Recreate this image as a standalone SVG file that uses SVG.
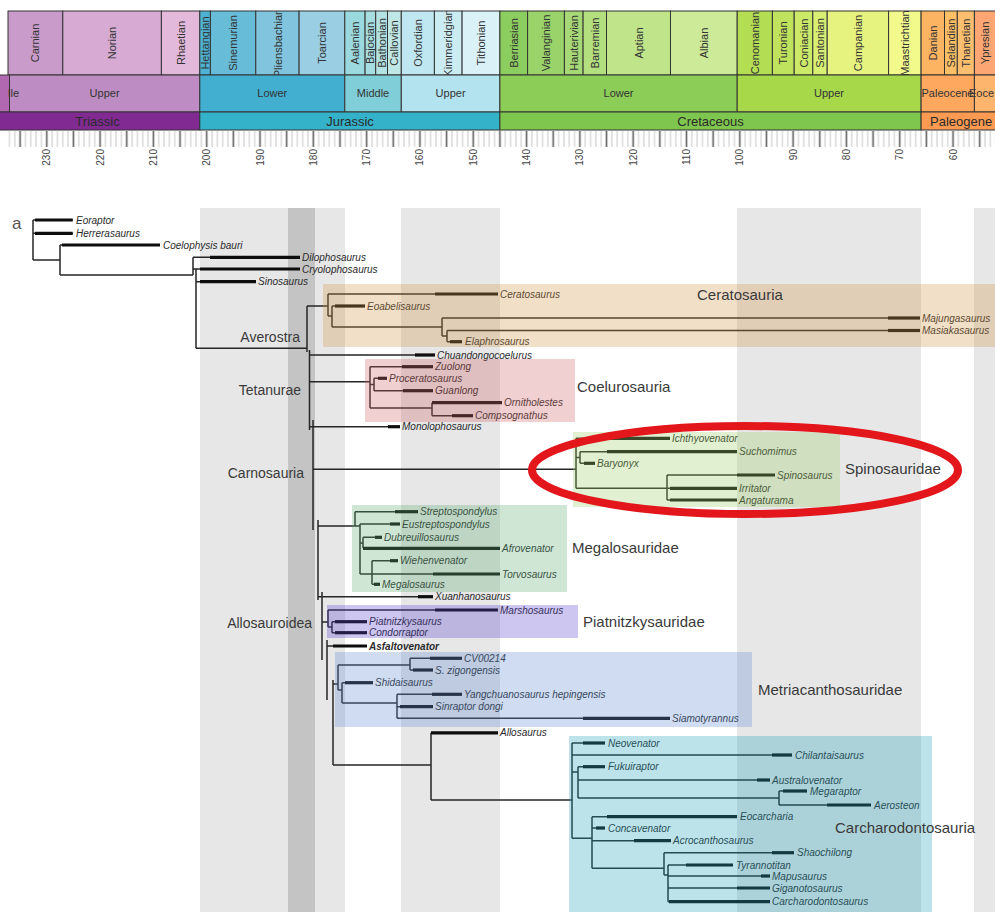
<svg xmlns="http://www.w3.org/2000/svg" width="995" height="912" viewBox="0 0 995 912">
<style>
.cell{stroke:#333;stroke-width:1}
.st{font-family:'Liberation Sans',Arial,sans-serif;font-size:11px;fill:#333;text-anchor:middle}
.ep{font-family:'Liberation Sans',Arial,sans-serif;font-size:11px;fill:#333;text-anchor:middle}
.pe{font-family:'Liberation Sans',Arial,sans-serif;font-size:13px;fill:#2a2a2a;text-anchor:middle}
.tk{font-family:'Liberation Sans',Arial,sans-serif;font-size:10px;fill:#444;text-anchor:end}
.tx{font-family:'Liberation Sans',Arial,sans-serif;font-size:10px;font-style:italic;fill:#2a2a2a}
.cl{font-family:'Liberation Sans',Arial,sans-serif;font-size:15px;fill:#3a3a3a}
.cr{font-family:'Liberation Sans',Arial,sans-serif;font-size:14px;fill:#3a3a3a;text-anchor:end}
.ln{stroke:#262626;stroke-width:1.5;fill:none}
.bar{stroke:#0d0d0d;stroke-width:3.2}
.box{stroke:none}
</style>
<defs>
<clipPath id="stageclip"><rect x="0" y="11" width="995" height="64"/></clipPath>
<pattern id="minor" patternUnits="userSpaceOnUse" x="1.4565" y="131" width="5.331" height="16"><line x1="2.6655" y1="0" x2="2.6655" y2="16" stroke="#c8c8c8" stroke-width="1"/></pattern>
<pattern id="major" patternUnits="userSpaceOnUse" x="6.7875" y="131" width="26.655" height="16"><line x1="13.3275" y1="0" x2="13.3275" y2="16" stroke="#6a6a6a" stroke-width="1.6"/></pattern>
</defs>
<rect width="995" height="912" fill="#fff"/>

<g id="timescale">
<g id="stages">
<rect class="cell" x="8" y="11" width="54.8" height="64" fill="#C99BCB"/>
<rect class="cell" x="62.8" y="11" width="98.6" height="64" fill="#D6AAD3"/>
<rect class="cell" x="161.4" y="11" width="38.4" height="64" fill="#E3B9DB"/>
<rect class="cell" x="199.8" y="11" width="10.6" height="64" fill="#4EB3D3"/>
<rect class="cell" x="210.4" y="11" width="45.4" height="64" fill="#67BCD8"/>
<rect class="cell" x="255.8" y="11" width="43.3" height="64" fill="#80C5DD"/>
<rect class="cell" x="299.1" y="11" width="45.7" height="64" fill="#99CEE3"/>
<rect class="cell" x="344.8" y="11" width="20.3" height="64" fill="#9AD9DD"/>
<rect class="cell" x="365.1" y="11" width="10.6" height="64" fill="#A6DDE0"/>
<rect class="cell" x="375.7" y="11" width="11.8" height="64" fill="#B3E2E3"/>
<rect class="cell" x="387.5" y="11" width="13.8" height="64" fill="#BFE7E5"/>
<rect class="cell" x="401.3" y="11" width="33.1" height="64" fill="#BFE7F1"/>
<rect class="cell" x="434.4" y="11" width="27.7" height="64" fill="#CCECF4"/>
<rect class="cell" x="462.1" y="11" width="37.8" height="64" fill="#D9F1F7"/>
<rect class="cell" x="499.9" y="11" width="27.7" height="64" fill="#8CCD60"/>
<rect class="cell" x="527.6" y="11" width="36.8" height="64" fill="#99D36A"/>
<rect class="cell" x="564.4" y="11" width="18.7" height="64" fill="#A6D975"/>
<rect class="cell" x="583.1" y="11" width="23.4" height="64" fill="#B3DF7F"/>
<rect class="cell" x="606.5" y="11" width="64" height="64" fill="#BFE48A"/>
<rect class="cell" x="670.5" y="11" width="66.7" height="64" fill="#CCEA97"/>
<rect class="cell" x="737.2" y="11" width="35.2" height="64" fill="#B3DE53"/>
<rect class="cell" x="772.4" y="11" width="21.8" height="64" fill="#BFE35D"/>
<rect class="cell" x="794.2" y="11" width="18.6" height="64" fill="#CCE968"/>
<rect class="cell" x="812.8" y="11" width="14.4" height="64" fill="#D9EF74"/>
<rect class="cell" x="827.2" y="11" width="61.4" height="64" fill="#E6F47F"/>
<rect class="cell" x="888.6" y="11" width="32.5" height="64" fill="#F2FA8C"/>
<rect class="cell" x="921.1" y="11" width="23.4" height="64" fill="#FDB462"/>
<rect class="cell" x="944.5" y="11" width="12.8" height="64" fill="#FEBF65"/>
<rect class="cell" x="957.3" y="11" width="17.1" height="64" fill="#FDBF6F"/>
<rect class="cell" x="974.4" y="11" width="30" height="64" fill="#FCA773"/>
<g clip-path="url(#stageclip)">
<text class="st" transform="translate(39.4,43) rotate(-90)">Carnian</text>
<text class="st" transform="translate(116.1,43) rotate(-90)">Norian</text>
<text class="st" transform="translate(184.6,43) rotate(-90)">Rhaetian</text>
<text class="st" transform="translate(209.1,43) rotate(-90)">Hettangian</text>
<text class="st" transform="translate(237.1,43) rotate(-90)">Sinemurian</text>
<text class="st" transform="translate(281.5,43) rotate(-90)">Pliensbachian</text>
<text class="st" transform="translate(326,43) rotate(-90)">Toarcian</text>
<text class="st" transform="translate(359,43) rotate(-90)">Aalenian</text>
<text class="st" transform="translate(374.4,43) rotate(-90)">Bajocian</text>
<text class="st" transform="translate(385.6,43) rotate(-90)">Bathonian</text>
<text class="st" transform="translate(398.4,43) rotate(-90)">Callovian</text>
<text class="st" transform="translate(421.9,43) rotate(-90)">Oxfordian</text>
<text class="st" transform="translate(452.3,43) rotate(-90)">Kimmeridgian</text>
<text class="st" transform="translate(485,43) rotate(-90)">Tithonian</text>
<text class="st" transform="translate(517.8,43) rotate(-90)">Berriasian</text>
<text class="st" transform="translate(550,43) rotate(-90)">Valanginian</text>
<text class="st" transform="translate(577.8,43) rotate(-90)">Hauterivian</text>
<text class="st" transform="translate(598.8,43) rotate(-90)">Barremian</text>
<text class="st" transform="translate(642.5,43) rotate(-90)">Aptian</text>
<text class="st" transform="translate(707.9,43) rotate(-90)">Albian</text>
<text class="st" transform="translate(758.8,43) rotate(-90)">Cenomanian</text>
<text class="st" transform="translate(787.3,43) rotate(-90)">Turonian</text>
<text class="st" transform="translate(807.5,43) rotate(-90)">Coniacian</text>
<text class="st" transform="translate(824,43) rotate(-90)">Santonian</text>
<text class="st" transform="translate(861.9,43) rotate(-90)">Campanian</text>
<text class="st" transform="translate(908.9,43) rotate(-90)">Maastrichtian</text>
<text class="st" transform="translate(936.8,43) rotate(-90)">Danian</text>
<text class="st" transform="translate(954.9,43) rotate(-90)">Selandian</text>
<text class="st" transform="translate(969.9,43) rotate(-90)">Thanetian</text>
<text class="st" transform="translate(988.7,43) rotate(-90)">Ypresian</text>
</g>
</g>
<g id="epochs">
<rect class="cell" x="-20" y="75" width="29.5" height="37" fill="#B168B1"/>
<rect class="cell" x="9.5" y="75" width="190.3" height="37" fill="#BD8CC3"/>
<rect class="cell" x="199.8" y="75" width="145" height="37" fill="#42AED0"/>
<rect class="cell" x="344.8" y="75" width="56.5" height="37" fill="#80CFD8"/>
<rect class="cell" x="401.3" y="75" width="98.6" height="37" fill="#B3E3EE"/>
<rect class="cell" x="499.9" y="75" width="237.3" height="37" fill="#8CCD57"/>
<rect class="cell" x="737.2" y="75" width="183.9" height="37" fill="#A6D84A"/>
<rect class="cell" x="921.1" y="75" width="53.3" height="37" fill="#FDA75F"/>
<rect class="cell" x="974.4" y="75" width="30" height="37" fill="#FDB46C"/>
<text class="ep" x="8" y="97" style="text-anchor:start">lle</text>
<text class="ep" x="104.6" y="97">Upper</text>
<text class="ep" x="272.3" y="97">Lower</text>
<text class="ep" x="373" y="97">Middle</text>
<text class="ep" x="450.6" y="97">Upper</text>
<text class="ep" x="618.5" y="97">Lower</text>
<text class="ep" x="829" y="97">Upper</text>
<text class="ep" x="921.5" y="97" style="text-anchor:start">Paleocene</text>
<text class="ep" x="969" y="97" style="text-anchor:start">Eoce</text>
</g>
<g id="periods">
<rect class="cell" x="-20" y="112" width="219.8" height="18" fill="#812B92"/>
<rect class="cell" x="199.8" y="112" width="300.1" height="18" fill="#34B2C9"/>
<rect class="cell" x="499.9" y="112" width="421.2" height="18" fill="#7FC64E"/>
<rect class="cell" x="921.1" y="112" width="83.3" height="18" fill="#FD9A52"/>
<text class="pe" x="97.5" y="126">Triassic</text>
<text class="pe" x="350" y="126">Jurassic</text>
<text class="pe" x="710.5" y="126">Cretaceous</text>
<text class="pe" x="930" y="126" style="text-anchor:start">Paleogene</text>
</g>
<g id="ticks">
<rect x="8" y="131" width="987" height="16" fill="url(#minor)"/>
<rect x="8" y="131" width="987" height="16" fill="url(#major)"/>
<text class="tk" transform="translate(50.3,149) rotate(-90)">230</text>
<text class="tk" transform="translate(103.6,149) rotate(-90)">220</text>
<text class="tk" transform="translate(156.9,149) rotate(-90)">210</text>
<text class="tk" transform="translate(210.2,149) rotate(-90)">200</text>
<text class="tk" transform="translate(263.5,149) rotate(-90)">190</text>
<text class="tk" transform="translate(316.8,149) rotate(-90)">180</text>
<text class="tk" transform="translate(370.1,149) rotate(-90)">170</text>
<text class="tk" transform="translate(423.4,149) rotate(-90)">160</text>
<text class="tk" transform="translate(476.7,149) rotate(-90)">150</text>
<text class="tk" transform="translate(530,149) rotate(-90)">140</text>
<text class="tk" transform="translate(583.4,149) rotate(-90)">130</text>
<text class="tk" transform="translate(636.7,149) rotate(-90)">120</text>
<text class="tk" transform="translate(690,149) rotate(-90)">110</text>
<text class="tk" transform="translate(743.3,149) rotate(-90)">100</text>
<text class="tk" transform="translate(796.6,149) rotate(-90)">90</text>
<text class="tk" transform="translate(849.9,149) rotate(-90)">80</text>
<text class="tk" transform="translate(903.2,149) rotate(-90)">70</text>
<text class="tk" transform="translate(956.5,149) rotate(-90)">60</text>
</g>
</g>

<g id="bands">
<rect x="200" y="208" width="145" height="704" fill="#e7e7e7"/>
<rect x="401" y="208" width="99" height="704" fill="#e7e7e7"/>
<rect x="737" y="208" width="184" height="704" fill="#e7e7e7"/>
<rect x="974" y="208" width="21" height="704" fill="#e7e7e7"/>
<rect x="288" y="208" width="27" height="704" fill="#c4c4c4"/>
</g>

<text id="panel-a" x="12" y="229" font-family="'Liberation Sans',Arial,sans-serif" font-size="17" fill="#555">a</text>

<g id="connectors" class="ln">
<path d="M33,220V260M33,220H72.7M33,233.3H72.7M33,260H60M60,245V275M60,245H160M60,275H193"/>
<path d="M193,257.3V275M193,257.3H300M193,269H196M196,269V348.3M196,269H300M196,281.7H256M196,348.3H307"/>
<path d="M307,306V352M307,306H328M328,294V316M328,294H498M328,316H332M332,306V327M332,306H365M332,327H442M442,318V336M442,318H920M442,336H447M447,330.5V341.7M447,330.5H920M447,341.7H462"/>
<path d="M309.5,350V430M309.5,355H435M309.5,381.7H370M370,366.7V408M370,366.7H433M370,384.5H374M374,378.3V390.7M374,378.3H387M374,390.7H433M370,408H432M432,402.7V415.7M432,402.7H502M432,415.7H473M309.5,426.7H400"/>
<path d="M313,420V530M313,469.3H576M576,438.3V488.3M576,438.3H670M576,457.5H580M580,451.7V463.3M580,451.7H737M580,463.3H595M576,488.3H667M667,475V500M667,475H775M667,488.3H737M667,500H737"/>
<path d="M318,520V600M318,526H355M355,511.7V526M355,511.7H418M355,526H360M360,524V574M360,524H400M360,543H363M363,537.3V548.3M363,537.3H382M363,548.3H500M360,574H500M372,560.7V584.3M372,560.7H398M372,584.3H380"/>
<path d="M322,592V660M318,596.7H433M322,622H328M328,610V627M328,610H498M328,627H332M332,621.7V632.7M332,621.7H367M332,632.7H367M327,640V700M327,646H367"/>
<path d="M333,680V765M333,684H338M338,665V690M338,665H410M410,658.3V670M410,658.3H462M410,670H433M338,690H342M342,682.7V703M342,682.7H373M342,703H397M397,694.3V718.3M397,694.3H462M397,706.7H433M397,718.3H670"/>
<path d="M333,765H431M431,732.8V800M431,732.8H498M431,800H572M572,743V838.3M572,743H605M572,755H792M572,772H578M578,766.7V798M578,766.7H605M578,780H770M578,798H779M779,791V805M779,791H807M779,805H871"/>
<path d="M572,838.3H592M592,816.7V868.3M592,816.7H737M592,828H605M592,840.7H671M592,868.3H664M664,852.7V875M664,852.7H794M664,875H668M668,865V901.7M668,865H733M668,876H770M668,888H770M668,901.7H770"/>
</g>

<g id="tips">
<g id="t-eoraptor"><line class="bar" x1="35" y1="220" x2="72.7" y2="220"/><text class="tx" x="76" y="223.5">Eoraptor</text></g>
<g id="t-herrerasaurus"><line class="bar" x1="35" y1="233.3" x2="72.7" y2="233.3"/><text class="tx" x="76" y="236.8">Herrerasaurus</text></g>
<g id="t-coelophysis"><line class="bar" x1="62" y1="245" x2="160" y2="245"/><text class="tx" x="163" y="248.5">Coelophysis bauri</text></g>
<g id="t-dilophosaurus"><line class="bar" x1="210" y1="257.3" x2="300" y2="257.3"/><text class="tx" x="302" y="260.8">Dilophosaurus</text></g>
<g id="t-cryolophosaurus"><line class="bar" x1="200" y1="269" x2="300" y2="269"/><text class="tx" x="302" y="272.5">Cryolophosaurus</text></g>
<g id="t-sinosaurus"><line class="bar" x1="200" y1="281.7" x2="256" y2="281.7"/><text class="tx" x="258" y="285.2">Sinosaurus</text></g>
<g id="t-ceratosaurus"><line class="bar" x1="435" y1="294" x2="498" y2="294"/><text class="tx" x="500" y="297.5">Ceratosaurus</text></g>
<g id="t-eoabelisaurus"><line class="bar" x1="335" y1="306" x2="365" y2="306"/><text class="tx" x="367" y="309.5">Eoabelisaurus</text></g>
<g id="t-majungasaurus"><line class="bar" x1="888" y1="318" x2="920" y2="318"/><text class="tx" x="922" y="321.5">Majungasaurus</text></g>
<g id="t-masiakasaurus"><line class="bar" x1="888" y1="330.5" x2="920" y2="330.5"/><text class="tx" x="922" y="334">Masiakasaurus</text></g>
<g id="t-elaphrosaurus"><line class="bar" x1="450" y1="341.7" x2="462" y2="341.7"/><text class="tx" x="465" y="345.2">Elaphrosaurus</text></g>
<g id="t-chuandongocoelurus"><line class="bar" x1="415" y1="355" x2="435" y2="355"/><text class="tx" x="437" y="358.5">Chuandongocoelurus</text></g>
<g id="t-zuolong"><line class="bar" x1="402" y1="366.7" x2="433" y2="366.7"/><text class="tx" x="435" y="370.2">Zuolong</text></g>
<g id="t-proceratosaurus"><line class="bar" x1="378" y1="378.3" x2="387" y2="378.3"/><text class="tx" x="389" y="381.8">Proceratosaurus</text></g>
<g id="t-guanlong"><line class="bar" x1="403" y1="390.7" x2="433" y2="390.7"/><text class="tx" x="435" y="394.2">Guanlong</text></g>
<g id="t-ornitholestes"><line class="bar" x1="432" y1="402.7" x2="502" y2="402.7"/><text class="tx" x="504" y="406.2">Ornitholestes</text></g>
<g id="t-compsognathus"><line class="bar" x1="452" y1="415.7" x2="473" y2="415.7"/><text class="tx" x="475" y="419.2">Compsognathus</text></g>
<g id="t-monolophosaurus"><line class="bar" x1="388" y1="426.7" x2="400" y2="426.7"/><text class="tx" x="402" y="430.2">Monolophosaurus</text></g>
<g id="t-ichthyovenator"><line class="bar" x1="607" y1="438.3" x2="670" y2="438.3"/><text class="tx" x="672" y="441.8">Ichthyovenator</text></g>
<g id="t-suchomimus"><line class="bar" x1="607" y1="451.7" x2="737" y2="451.7"/><text class="tx" x="739" y="455.2">Suchomimus</text></g>
<g id="t-baryonyx"><line class="bar" x1="584" y1="463.3" x2="595" y2="463.3"/><text class="tx" x="597" y="466.8">Baryonyx</text></g>
<g id="t-spinosaurus"><line class="bar" x1="737" y1="475" x2="775" y2="475"/><text class="tx" x="777" y="478.5">Spinosaurus</text></g>
<g id="t-irritator"><line class="bar" x1="670" y1="488.3" x2="737" y2="488.3"/><text class="tx" x="739" y="491.8">Irritator</text></g>
<g id="t-angaturama"><line class="bar" x1="670" y1="500" x2="737" y2="500"/><text class="tx" x="739" y="503.5">Angaturama</text></g>
<g id="t-streptospondylus"><line class="bar" x1="395" y1="511.7" x2="418" y2="511.7"/><text class="tx" x="420" y="515.2">Streptospondylus</text></g>
<g id="t-eustreptospondylus"><line class="bar" x1="390" y1="524" x2="400" y2="524"/><text class="tx" x="402" y="527.5">Eustreptospondylus</text></g>
<g id="t-dubreuillosaurus"><line class="bar" x1="375" y1="537.3" x2="382" y2="537.3"/><text class="tx" x="384" y="540.8">Dubreuillosaurus</text></g>
<g id="t-afrovenator"><line class="bar" x1="363" y1="548.3" x2="500" y2="548.3"/><text class="tx" x="502" y="551.8">Afrovenator</text></g>
<g id="t-wiehenvenator"><line class="bar" x1="390" y1="560.7" x2="398" y2="560.7"/><text class="tx" x="400" y="564.2">Wiehenvenator</text></g>
<g id="t-torvosaurus"><line class="bar" x1="433" y1="574" x2="500" y2="574"/><text class="tx" x="502" y="577.5">Torvosaurus</text></g>
<g id="t-megalosaurus"><line class="bar" x1="374" y1="584.3" x2="380" y2="584.3"/><text class="tx" x="382" y="587.8">Megalosaurus</text></g>
<g id="t-xuanhanosaurus"><line class="bar" x1="418" y1="596.7" x2="433" y2="596.7"/><text class="tx" x="435" y="600.2">Xuanhanosaurus</text></g>
<g id="t-marshosaurus"><line class="bar" x1="435" y1="610" x2="498" y2="610"/><text class="tx" x="500" y="613.5">Marshosaurus</text></g>
<g id="t-piatnitzkysaurus"><line class="bar" x1="335" y1="621.7" x2="367" y2="621.7"/><text class="tx" x="369" y="625.2">Piatnitzkysaurus</text></g>
<g id="t-condorraptor"><line class="bar" x1="335" y1="632.7" x2="367" y2="632.7"/><text class="tx" x="369" y="636.2">Condorraptor</text></g>
<g id="t-asfaltovenator"><line class="bar" x1="333" y1="646" x2="367" y2="646"/><text class="tx" x="369" y="649.5" font-weight="bold" fill="#111">Asfaltovenator</text></g>
<g id="t-cv00214"><line class="bar" x1="430" y1="658.3" x2="462" y2="658.3"/><text class="tx" x="464" y="661.8" font-style="normal">CV00214</text></g>
<g id="t-szigongensis"><line class="bar" x1="413" y1="670" x2="433" y2="670"/><text class="tx" x="435" y="673.5">S. zigongensis</text></g>
<g id="t-shidaisaurus"><line class="bar" x1="345" y1="682.7" x2="373" y2="682.7"/><text class="tx" x="375" y="686.2">Shidaisaurus</text></g>
<g id="t-yangchuanosaurus"><line class="bar" x1="432" y1="694.3" x2="462" y2="694.3"/><text class="tx" x="464" y="697.8">Yangchuanosaurus hepingensis</text></g>
<g id="t-sinraptor"><line class="bar" x1="400" y1="706.7" x2="433" y2="706.7"/><text class="tx" x="435" y="710.2">Sinraptor dongi</text></g>
<g id="t-siamotyrannus"><line class="bar" x1="583" y1="718.3" x2="670" y2="718.3"/><text class="tx" x="672" y="721.8">Siamotyrannus</text></g>
<g id="t-allosaurus"><line class="bar" x1="431" y1="732.8" x2="498" y2="732.8"/><text class="tx" x="500" y="736.3">Allosaurus</text></g>
<g id="t-neovenator"><line class="bar" x1="583" y1="743" x2="605" y2="743"/><text class="tx" x="608" y="746.5">Neovenator</text></g>
<g id="t-chilantaisaurus"><line class="bar" x1="772" y1="755" x2="792" y2="755"/><text class="tx" x="795" y="758.5">Chilantaisaurus</text></g>
<g id="t-fukuiraptor"><line class="bar" x1="583" y1="766.7" x2="605" y2="766.7"/><text class="tx" x="608" y="770.2">Fukuiraptor</text></g>
<g id="t-australovenator"><line class="bar" x1="757" y1="780" x2="770" y2="780"/><text class="tx" x="772" y="783.5">Australovenator</text></g>
<g id="t-megaraptor"><line class="bar" x1="783" y1="791" x2="807" y2="791"/><text class="tx" x="810" y="794.5">Megaraptor</text></g>
<g id="t-aerosteon"><line class="bar" x1="827" y1="805" x2="871" y2="805"/><text class="tx" x="874" y="808.5">Aerosteon</text></g>
<g id="t-eocarcharia"><line class="bar" x1="607" y1="816.7" x2="737" y2="816.7"/><text class="tx" x="740" y="820.2">Eocarcharia</text></g>
<g id="t-concavenator"><line class="bar" x1="596" y1="828" x2="605" y2="828"/><text class="tx" x="608" y="831.5">Concavenator</text></g>
<g id="t-acrocanthosaurus"><line class="bar" x1="634" y1="840.7" x2="671" y2="840.7"/><text class="tx" x="673" y="844.2">Acrocanthosaurus</text></g>
<g id="t-shaochilong"><line class="bar" x1="772" y1="852.7" x2="794" y2="852.7"/><text class="tx" x="797" y="856.2">Shaochilong</text></g>
<g id="t-tyrannotitan"><line class="bar" x1="686" y1="865" x2="733" y2="865"/><text class="tx" x="736" y="868.5">Tyrannotitan</text></g>
<g id="t-mapusaurus"><line class="bar" x1="761" y1="876" x2="770" y2="876"/><text class="tx" x="772" y="879.5">Mapusaurus</text></g>
<g id="t-giganotosaurus"><line class="bar" x1="737" y1="888" x2="770" y2="888"/><text class="tx" x="772" y="891.5">Giganotosaurus</text></g>
<g id="t-carcharodontosaurus"><line class="bar" x1="669" y1="901.7" x2="770" y2="901.7"/><text class="tx" x="772" y="905.2">Carcharodontosaurus</text></g>
</g>

<g id="clade-boxes" class="box">
<rect id="box-ceratosauria" x="323" y="284" width="672" height="63" fill="#d4944a" opacity="0.3"/>
<rect id="box-coelurosauria" x="365" y="359" width="210" height="63" fill="#cd6262" opacity="0.3"/>
<rect id="box-spinosauridae" x="573" y="432" width="267" height="75" fill="#98cd62" opacity="0.3"/>
<rect id="box-megalosauridae" x="352" y="505" width="215" height="87" fill="#5fac73" opacity="0.3"/>
<rect id="box-piatnitzkysauridae" x="327" y="605" width="251" height="33" fill="#5841cd" opacity="0.3"/>
<rect id="box-metriacanthosauridae" x="335" y="652" width="417" height="75" fill="#5f8ad4" opacity="0.3"/>
<rect id="box-carcharodontosauria" x="569" y="736" width="363" height="176" fill="#23a2b9" opacity="0.3"/>
</g>

<g id="clade-labels">
<text class="cr" x="300" y="342">Averostra</text>
<text class="cr" x="301" y="395">Tetanurae</text>
<text class="cr" x="304" y="478">Carnosauria</text>
<text class="cr" x="312" y="628">Allosauroidea</text>
<text class="cl" x="697" y="300">Ceratosauria</text>
<text class="cl" x="577" y="392">Coelurosauria</text>
<text class="cl" x="845" y="474">Spinosauridae</text>
<text class="cl" x="572" y="553">Megalosauridae</text>
<text class="cl" x="583" y="627">Piatnitzkysauridae</text>
<text class="cl" x="758" y="695">Metriacanthosauridae</text>
<text class="cl" x="835" y="833">Carcharodontosauria</text>
</g>

<ellipse id="highlight" cx="745" cy="470" rx="213" ry="44" fill="none" stroke="#e3161c" stroke-width="8"/>
</svg>
